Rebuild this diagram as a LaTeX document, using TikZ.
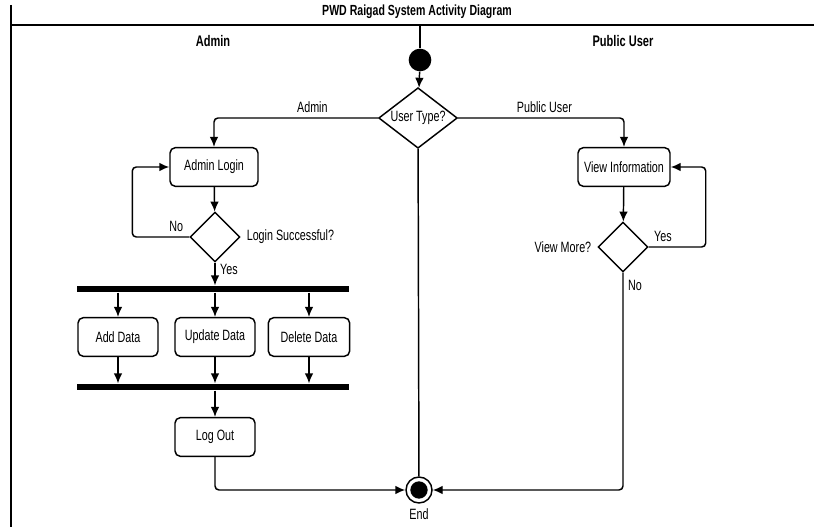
\documentclass[tikz,border=0pt]{standalone}
\usepackage{fontspec}
\setmainfont[FakeStretch=0.72]{Liberation Sans}
\usetikzlibrary{arrows.meta,shapes.geometric,positioning}

\tikzset{
  txt/.style={font=\fontsize{11.2}{13}\selectfont},
  act/.style={txt, draw, rounded corners=4pt, line width=1.1pt, minimum height=29pt, inner sep=2pt},
  decide/.style={draw, diamond, line width=1.1pt, minimum width=37.5pt, minimum height=37.5pt, inner sep=0pt},
  flow/.style={line width=1.1pt, rounded corners=3pt, -{Latex[length=7.5pt,width=6.5pt]}},
  bar/.style={fill=black, inner sep=0pt, minimum width=204pt, minimum height=5pt},
  lane/.style={font=\fontsize{11.5}{13}\selectfont\bfseries},
}

\begin{document}
\begin{tikzpicture}[x=0.75pt,y=-0.75pt]
  \useasboundingbox (0,0) rectangle (814,527);
  \draw[line width=1.1pt] (11,5) -- (11,527);
  \draw[line width=1.1pt] (11,25) -- (814,25);
  \node[lane, font=\fontsize{11}{12}\selectfont\bfseries] (title) at (417,12) {PWD Raigad System Activity Diagram};
  \node[lane] (ladmin) at (213,41) {Admin};
  \node[lane] (lpublic) at (623,41) {Public User};

  \node[circle, fill=black, inner sep=0pt, minimum size=17pt] (start) at (420,60) {};
  \node[decide, txt, shape aspect=1.3, minimum width=58.5pt, minimum height=45pt, inner sep=1pt] (utype) at (418,118) {User Type?};
  \node[act, minimum width=66pt] (alogin) at (214,167) {Admin Login};
  \node[decide] (lsucc) at (215,237) {};
  \node[bar] (fork) at (213,289) {};
  \node[act, minimum width=60pt] (add) at (118,337) {Add Data};
  \node[act, minimum width=60pt] (upd) at (215,337) {Update Data};
  \node[act, minimum width=61pt] (del) at (309,337) {Delete Data};
  \node[bar] (join) at (213,387) {};
  \node[act, minimum width=60pt] (logout) at (215,437) {Log Out};
  \node[circle, draw, line width=1.1pt, inner sep=0pt, minimum size=19.5pt] (end) at (419,490) {};
  \node[circle, fill=black, inner sep=0pt, minimum size=13pt] (endin) at (end) {};
  \node[txt, below=0pt of end] (endlbl) {End};
  \node[act, minimum width=69pt] (vinfo) at (624,167) {View Information};
  \node[decide] (vmore) at (623,247) {};

  \draw[line width=1.1pt] (420,25) -- (start);
  \draw[flow] (start) -- (utype);
  \draw[flow] (utype.west) -| (alogin) node[txt, pos=0.2, above] {Admin};
  \draw[flow] (utype.east) -| (vinfo) node[txt, pos=0.26, above] {Public User};
  \draw[flow] (alogin) -- (lsucc);
  \draw[flow] (lsucc.west) -- ++(-57,0) node[txt, pos=0.23, above] {No} |- (alogin.west);
  \node[txt, right=1pt of lsucc.east] {Login Successful?};
  \draw[flow] (lsucc.south) -- (lsucc.south |- fork.north) node[txt, pos=0.3, right] {Yes};
  \foreach \n in {add,upd,del} {
    \draw[flow] (\n.north |- fork.south) -- (\n);
    \draw[flow] (\n) -- (\n.south |- join.north);
  }
  \draw[flow] (join.south -| logout) -- (logout);
  \draw[flow] (logout) |- (end);
  \draw[line width=1.1pt] (utype) -- (end);
  \draw[flow] (vinfo) -- (vmore);
  \draw[flow] (vmore.east) -- ++(57,0) node[txt, pos=0.25, above] {Yes} |- (vinfo.east);
  \node[txt, left=1pt of vmore.west] {View More?};
  \draw[flow] (vmore) |- (end) node[txt, pos=0.03, right] {No};
\end{tikzpicture}
\end{document}
